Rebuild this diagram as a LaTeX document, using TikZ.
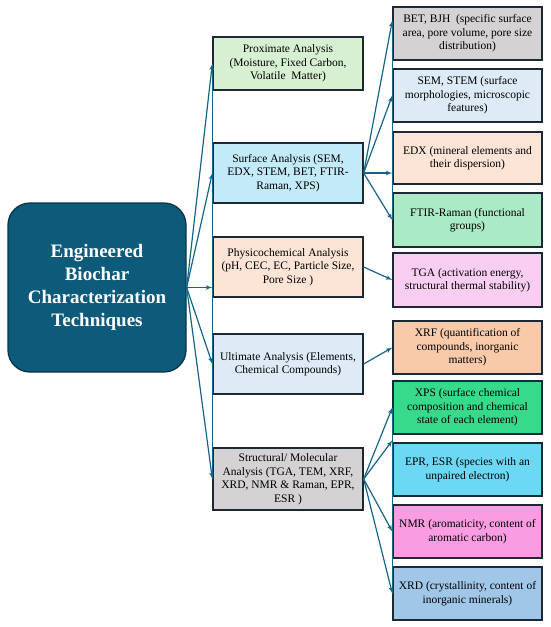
\documentclass[tikz,border=0pt]{standalone}
\usepackage{fontspec}
\setmainfont{Liberation Serif}
\usepackage{tikz}
\usetikzlibrary{shapes,arrows}
\definecolor{mainfill}{RGB}{14,90,122}
\definecolor{mainedge}{RGB}{10,52,72}
\definecolor{boxedge}{RGB}{28,40,52}
\definecolor{arrowblue}{RGB}{22,100,135}
\definecolor{greenlt}{RGB}{216,240,210}
\definecolor{cyanlt}{RGB}{194,234,248}
\definecolor{peachlt}{RGB}{252,228,214}
\definecolor{bluelt}{RGB}{221,235,247}
\definecolor{graylt}{RGB}{212,210,210}
\definecolor{mintmid}{RGB}{170,234,196}
\definecolor{pinklt}{RGB}{250,206,242}
\definecolor{salmon}{RGB}{248,202,170}
\definecolor{greenmid}{RGB}{54,218,138}
\definecolor{cyanmid}{RGB}{108,216,244}
\definecolor{pinkmid}{RGB}{250,156,226}
\definecolor{bluemid}{RGB}{160,198,232}
\tikzstyle{main} = [rectangle, draw=mainedge, line width=1.3pt, fill=mainfill, rounded corners=22pt, align=center, text=white, font=\fontsize{19}{23}\selectfont\bfseries, minimum width=178pt, minimum height=169pt]
\tikzstyle{block} = [rectangle, draw=boxedge, line width=1.3pt, align=center, font=\fontsize{11.5}{13.5}\selectfont, inner sep=2pt]
\tikzstyle{mid} = [block, minimum width=150pt, minimum height=60pt]
\tikzstyle{leaf} = [block, minimum width=149pt, minimum height=53pt]
\tikzstyle{line} = [draw, line width=1.2pt, arrowblue, -latex']
\tikzstyle{rail} = [draw, line width=1.2pt, arrowblue]

\begin{document}
\begin{tikzpicture}[x=1pt, y=-1pt]
\useasboundingbox (0, 0) rectangle (550, 627);

\node [main] at (97, 287.5) (core) {Engineered\\Biochar\\Characterization\\Techniques};

% analysis groups
\node [mid, fill=greenlt, minimum height=53pt] at (288, 63.5) (prox) {Proximate Analysis\\(Moisture, Fixed Carbon,\\Volatile\ \ Matter)};
\node [mid, fill=cyanlt] at (288, 173) (surf) {Surface Analysis (SEM,\\EDX, STEM, BET, FTIR-\\Raman, XPS)};
\node [mid, fill=peachlt] at (288, 267) (phys) {Physicochemical Analysis\\(pH, CEC, EC, Particle Size,\\Pore Size )};
\node [mid, fill=bluelt] at (288, 364) (ult) {Ultimate Analysis (Elements,\\Chemical Compounds)};
\node [mid, fill=graylt, minimum height=62pt] at (288, 479) (struc) {Structural/ Molecular\\Analysis (TGA, TEM, XRF,\\XRD, NMR \& Raman, EPR,\\ESR )};

\path [line] (core.east) to (prox.west);
\path [line] (core.east) to (surf.west);
\path [line] (core.east) to (core.east -| phys.west);
\path [line] (core.east) to (ult.west);
\path [line] (core.east) to (struc.west);
\path [rail] (prox.west) to (struc.west);

% techniques
\node [leaf, fill=graylt] at (467.5, 33.5) (bet) {BET, BJH\ \ (specific surface\\area, pore volume, pore size\\distribution)};
\node [leaf, fill=bluelt] at (467.5, 95.5) (sem) {SEM, STEM (surface\\morphologies, microscopic\\features)};
\node [leaf, fill=peachlt, minimum height=52pt] at (467.5, 158) (edx) {EDX (mineral elements and\\their dispersion)};
\node [leaf, fill=mintmid, minimum height=54pt] at (467.5, 220) (ftir) {FTIR-Raman (functional\\groups)};
\node [leaf, fill=pinklt, minimum height=54pt] at (467.5, 280) (tga) {TGA (activation energy,\\structural thermal stability)};
\node [leaf, fill=salmon] at (467.5, 347.5) (xrf) {XRF (quantification of\\compounds, inorganic\\matters)};
\node [leaf, fill=greenmid] at (467.5, 407.5) (xps) {XPS (surface chemical\\composition and chemical\\state of each element)};
\node [leaf, fill=cyanmid] at (467.5, 469.5) (epr) {EPR, ESR (species with an\\unpaired electron)};
\node [leaf, fill=pinkmid] at (467.5, 531.5) (nmr) {NMR (aromaticity, content of\\aromatic carbon)};
\node [leaf, fill=bluemid] at (467.5, 593.5) (xrd) {XRD (crystallinity, content of\\inorganic minerals)};

\path [line] (surf.east) to ([yshift=13pt]bet.west);
\path [line] (surf.east) to (sem.west);
\path [line] (surf.east) to (surf.east -| edx.west);
\path [line] (surf.east) to (ftir.west);
\path [rail] ([yshift=13pt]bet.west) to (ftir.west);

\path [line] (phys.east) to (tga.west);
\path [line] (ult.east) to (xrf.west);

\path [line] (struc.east) to (xps.west);
\path [line] (struc.east) to ([yshift=2pt]epr.north west);
\path [line] (struc.east) to (nmr.west);
\path [line] (struc.east) to (xrd.west);
\path [rail] (xps.west) to (xrd.west);

\end{tikzpicture}
\end{document}
